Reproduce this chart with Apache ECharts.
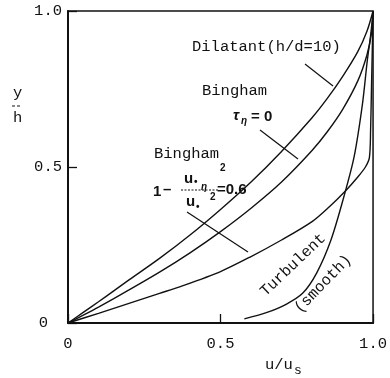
<!DOCTYPE html>
<html><head><meta charset="utf-8">
<script src="https://cdn.jsdelivr.net/npm/echarts@6/dist/echarts.min.js"></script>
<style>html,body{margin:0;padding:0;background:#fff}#c{width:390px;height:378px}</style>
</head><body><div id="c"></div>
<script>
// ---- data ----
const dilatantU = [0,0.05,0.1,0.15,0.2,0.3,0.4,0.5,0.6,0.7,0.8,0.85,0.9,0.95,0.98,1];
const dilatantY = [0,0.034,0.068,0.103,0.138,0.207,0.282,0.364,0.452,0.55,0.658,0.72,0.79,0.87,0.935,1.0];

const binghamZeroU = [0,0.05,0.1,0.2,0.3,0.4,0.5,0.6,0.7,0.8,0.85,0.9,0.95,0.98,0.995,1];
const binghamZeroY = [0,0.025,0.051,0.106,0.163,0.225,0.293,0.368,0.452,0.553,0.613,0.684,0.776,0.859,0.93,1.0];

const binghamSixU = [0,0.1,0.2,0.3,0.366,0.5,0.6,0.7,0.8,0.856,0.911,0.95,0.975,0.988,0.992,0.995,0.998,1];
const binghamSixY = [0,0.031,0.063,0.095,0.116,0.165,0.213,0.266,0.325,0.372,0.425,0.468,0.5,0.53,0.62,0.76,0.9,1.0];

const turbulentU = [0.578,0.65,0.715,0.769,0.815,0.862,0.905,0.938,0.965,0.981,0.993,1.0];
const turbulentY = [0.013,0.033,0.06,0.095,0.16,0.266,0.407,0.533,0.7,0.84,0.93,1.0];

const xTicks = [0, 0.5, 1.0];
const yTicks = [0, 0.5, 1.0];
const xTickLabels = ['0', '0.5', '1.0'];
const yTickLabels = ['0', '0.5', '1.0'];

// ---- chart ----
const pairs = (us, ys) => us.map((u, i) => [u, ys[i]]);
const MONO = "'Liberation Mono', 'DejaVu Sans Mono', monospace";
const SANS = "'Liberation Sans', Arial, sans-serif";
const INK = '#111';

const chart = echarts.init(document.getElementById('c'), null, {renderer: 'canvas'});

function lineSeries(name, data) {
  return {
    name, type: 'line', data, showSymbol: false, symbol: 'none',
    smooth: 0.3, clip: true,
    lineStyle: {color: INK, width: 1.4}, silent: true
  };
}

function txt(text, x, y, font, opts) {
  return Object.assign({type: 'text', x, y, silent: true,
    style: Object.assign({text, font, fill: INK, align: 'left', verticalAlign: 'middle'}, (opts && opts.style) || {})},
    opts && opts.el ? opts.el : {});
}
function seg(x1, y1, x2, y2, w, dash) {
  return {type: 'line', silent: true, shape: {x1, y1, x2, y2},
    style: {stroke: INK, lineWidth: w || 1.2, lineDash: dash || null}};
}

const f15 = '15.5px ' + MONO;
const b15 = 'bold 15px ' + SANS;
const b10 = 'bold 10px ' + SANS;

chart.setOption({
  animation: false,
  backgroundColor: '#fff',
  grid: {left: 68, top: 11, right: 16, bottom: 55, show: true, borderColor: INK, borderWidth: 1.5},
  xAxis: {
    type: 'value', min: xTicks[0], max: xTicks[xTicks.length - 1], interval: 0.5,
    axisLine: {show: true, lineStyle: {color: INK, width: 2}},
    axisTick: {show: true, inside: true, length: 9, lineStyle: {color: INK, width: 1.3}},
    splitLine: {show: false},
    axisLabel: {margin: 13, color: INK, fontFamily: MONO, fontSize: 15.5,
      formatter: v => xTickLabels[xTicks.findIndex(t => Math.abs(t - v) < 1e-9)] || ''}
  },
  yAxis: {
    type: 'value', min: yTicks[0], max: yTicks[yTicks.length - 1], interval: 0.5,
    axisLine: {show: true, lineStyle: {color: INK, width: 2}},
    axisTick: {show: true, inside: true, length: 9, lineStyle: {color: INK, width: 1.3}},
    splitLine: {show: false},
    axisLabel: {margin: 6, color: INK, fontFamily: MONO, fontSize: 15.5,
      formatter: v => {
        const s = yTickLabels[yTicks.findIndex(t => Math.abs(t - v) < 1e-9)] || '';
        return s === '0' ? '{z|0}' : s;
      },
      rich: {z: {fontFamily: MONO, fontSize: 15.5, color: INK, padding: [0, 14, 0, 0]}}
    }
  },
  series: [
    lineSeries('Dilatant(h/d=10)', pairs(dilatantU, dilatantY)),
    lineSeries('Bingham τη=0', pairs(binghamZeroU, binghamZeroY)),
    lineSeries('Bingham 0.6', pairs(binghamSixU, binghamSixY)),
    lineSeries('Turbulent (smooth)', pairs(turbulentU, turbulentY))
  ],
  graphic: [
    // axis names
    txt('y', 13, 93, f15),
    seg(12, 106, 22, 106, 1, [3, 2]),
    txt('h', 13, 118, f15),
    txt('u/u', 265, 365, f15),
    txt('s', 294, 371, '13px ' + MONO),
    // Dilatant
    txt('Dilatant(h/d=10)', 192, 47, f15),
    seg(305, 64, 333, 86),
    // Bingham tau = 0
    txt('Bingham', 202, 91, f15),
    txt('τ', 233, 116, 'italic bold 15px ' + SANS),
    txt('η', 241, 121, 'italic bold 10px ' + SANS),
    txt('= 0', 251, 117, b15),
    seg(260, 130, 298, 159),
    // Bingham 0.6
    txt('Bingham', 154, 154, f15),
    txt('1', 153, 192, b15),
    txt('–', 163, 190, b15),
    txt('u', 184, 179, b15),
    txt('•', 194, 182, b10),
    txt('η', 201, 187, 'italic bold 10px ' + SANS),
    txt('2', 220, 168, b10),
    seg(181, 190, 219, 190, 1, [2, 1.5]),
    txt('u', 186, 202, b15),
    txt('•', 196, 207, b10),
    txt('2', 210, 197, b10),
    txt('=0.6', 217, 190, b15),
    seg(187, 212, 248, 252),
    // Turbulent
    txt('Turbulent', 293, 265, f15, {style: {align: 'center'}, el: {rotation: 0.76}}),
    txt('(smooth)', 323, 284, f15, {style: {align: 'center'}, el: {rotation: 0.8}})
  ]
});
</script>
</body></html>
